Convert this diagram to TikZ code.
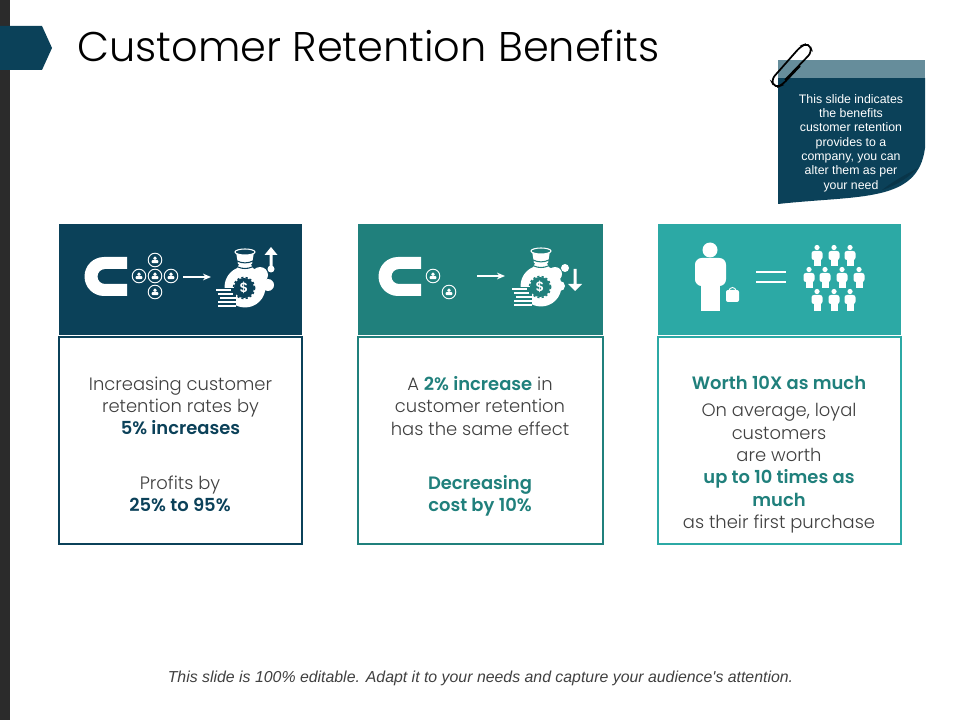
\documentclass[tikz,border=0pt]{standalone}
\usepackage{fontspec}
\usetikzlibrary{arrows.meta}
\setmainfont{Poppins Light}[BoldFont={Poppins SemiBold}]
\newfontfamily\arl{Liberation Sans}
\definecolor{cdark}{HTML}{0B4159}
\definecolor{cmid}{HTML}{20807C}
\definecolor{clight}{HTML}{2CA9A5}
\definecolor{cband}{HTML}{668D9B}
\definecolor{ctext}{HTML}{404040}
\definecolor{cbar}{HTML}{2B2B2B}
\tikzset{
 x=0.75pt,y=-0.75pt,
 panelbox/.style={draw=#1,line width=1.5pt,fill=white},
 bodytext/.style={text=ctext,align=center,font=\fontsize{13.45pt}{16.75pt}\selectfont,inner sep=0pt},
 whiteline/.style={draw=white,line width=1.1pt},
 note/.style={text=white,align=center,font=\arl\fontsize{9.25pt}{10.75pt}\selectfont,inner sep=0pt},
}
\newcommand{\mgnt}[2]{%
 \fill[white] (#1+43,#2) -- (#1+20,#2) arc[start angle=270,end angle=90,radius=19.5] -- (#1+43,#2+39) -- (#1+43,#2+27) -- (#1+21,#2+27) arc[start angle=90,end angle=270,radius=7.5] -- (#1+43,#2+12) -- cycle;}
\newcommand{\usr}[2]{%
 \draw[white,line width=0.7pt] (#1,#2) circle[radius=6.8];
 \fill[white] (#1,#2-1.8) circle[radius=1.9];
 \fill[white,rounded corners=0.8pt] (#1-3.4,#2+3.2) -- (#1-3.4,#2) -- (#1+3.4,#2) -- (#1+3.4,#2+3.2) -- cycle;}
% bag: centre x,y; background colour
\newcommand{\mbag}[3]{%
 \fill[white] (#1,#2) circle[radius=20.5];
 \fill[white] (#1-13,#2-14) .. controls (#1-8,#2-18) and (#1-6,#2-20) .. (#1-6,#2-23) -- (#1+6,#2-23) .. controls (#1+6,#2-20) and (#1+8,#2-18) .. (#1+13,#2-14) -- cycle;
 \fill[white] (#1-9,#2-35) -- (#1+9,#2-35) -- (#1+7,#2-23) -- (#1-7,#2-23) -- cycle;
 \draw[white,line width=0.8pt,fill=#3] (#1,#2-35) ellipse[x radius=10,y radius=3];
 \draw[#3,line width=0.8pt] (#1-8,#2-26) .. controls (#1-3,#2-23.5) and (#1+3,#2-23.5) .. (#1+8,#2-26);
 \draw[#3,line width=0.8pt] (#1-7,#2-20) .. controls (#1-3,#2-18) and (#1+3,#2-18) .. (#1+7,#2-20);
 \fill[#3] (#1-1,#2+1) circle[radius=10];
 \draw[#3,line width=1.2pt,dash pattern=on 1.6pt off 1.6pt] (#1-1,#2+1) circle[radius=10.6];
 \node[text=white,inner sep=0pt,font=\bfseries\fontsize{10pt}{10pt}\selectfont] (dollar#1) at (#1-1,#2+1) {\$};
 \fill[#3] (#1-31,#2+1.5) rectangle (#1-9,#2+21.5);
 \foreach \yy/\xa/\xb in {3.5/-29/-14,7.5/-27/-12,11.5/-25/-9,15.5/-27/-9,19.5/-27/-9}
   \draw[white,line width=1.5pt] (#1+\xa,#2+\yy) -- (#1+\xb,#2+\yy);}
\newcommand{\prsn}[2]{%
 \fill[white] (#1,#2+2.5) circle[radius=2.6];
 \fill[white,rounded corners=1.8pt] (#1-5.5,#2+15) -- (#1-5.5,#2+6) -- (#1+5.5,#2+6) -- (#1+5.5,#2+15) -- cycle;
 \fill[white] (#1-3.5,#2+10) rectangle (#1+3.5,#2+21.5);}
\begin{document}
\begin{tikzpicture}
\useasboundingbox (0,0) rectangle (960,720);
\fill[white] (0,0) rectangle (960,720);
\fill[cbar] (0,0) rectangle (10,720);
\fill[cdark] (0,26) -- (42,26) -- (52,48) -- (42,70) -- (0,70) -- cycle;
\node[anchor=base west,inner sep=0pt,font=\fontsize{31.12pt}{36pt}\selectfont,text=black] (title) at (77,62) {Customer Retention Benefits};
% note
\fill[cdark] (778,78) -- (925,78) -- (925,148) .. controls (918,203) and (860,195) .. (778,204) -- cycle;
\fill[cband] (778,60) rectangle (925,78);
\fill[black!18!cdark] (918,168) .. controls (905,175) and (895,180) .. (882,190) .. controls (898,185) and (910,176) .. (918,168) -- cycle;
\draw[black,line width=1.3pt,rounded corners=4pt] (800,66) -- (782,85) -- (775,88) -- (771,80) -- (801,46) -- (809,43) -- (812,52) -- (785,80);
\node[note] (notetext) at (851,143) {This slide indicates\\the benefits\\customer retention\\provides to a\\company, you can\\alter them as per\\your need};
% panels
\fill[cdark] (59,224) rectangle (302,335);
\fill[cmid] (358,224) rectangle (603,335);
\fill[clight] (658,224) rectangle (901,335);
\draw[panelbox=cdark] (59,337) rectangle (302,544);
\draw[panelbox=cmid] (358,337) rectangle (603,544);
\draw[panelbox=clight] (658,337) rectangle (901,544);
% panel 1 icons
\mgnt{84}{257}
\usr{155}{276}\usr{139}{276}\usr{171}{276}\usr{155}{260}\usr{155}{292}
\coordinate (aa) at (183,277); \coordinate (ab) at (211,277);
\draw[whiteline,-{Stealth[length=6pt,width=5pt]}] (aa) -- (ab);
\mbag{245}{287}{cdark}
\fill[white] (260,275) circle[radius=8]; \fill[white] (268,285) circle[radius=6];
\fill[white] (271,269) circle[radius=3.5];
\fill[white] (269.5,268) rectangle (272.5,254) (264.5,255) -- (271,247) -- (277.5,255) -- cycle;
% panel 2 icons
\mgnt{378}{257}
\usr{433}{276}\usr{449}{292}
\coordinate (ba) at (477,276); \coordinate (bb) at (505,276);
\draw[whiteline,-{Stealth[length=6pt,width=5pt]}] (ba) -- (bb);
\mbag{541}{286}{cmid}
\fill[white] (555,274) circle[radius=7]; \fill[white] (565,268) circle[radius=4]; \fill[white] (560,286) circle[radius=5];
\fill[white] (573.5,269) rectangle (576.5,284) (568,284) -- (582,284) -- (575,291) -- cycle;
% panel 3 icons
\fill[white] (710,250) circle[radius=7.5];
\fill[white,rounded corners=5pt] (695,286) -- (695,258) -- (726,258) -- (726,286) -- cycle;
\fill[white] (701,275) rectangle (720,311);
\fill[white,rounded corners=1.5pt] (726,290) rectangle (739,302);
\draw[white,line width=0.7pt] (729,291) arc[start angle=180,end angle=360,radius=3.5];
\coordinate (ea) at (756,272); \coordinate (eb) at (786,272);
\coordinate (ec) at (756,282); \coordinate (ed) at (786,282);
\draw[whiteline] (ea) -- (eb); \draw[whiteline] (ec) -- (ed);
\foreach \px in {817,834,850} {\prsn{\px}{245}\prsn{\px}{289}}
\foreach \px in {809,825,842,859} {\prsn{\px}{267}}
% text
\node[bodytext] (t1a) at (180.5,406) {Increasing customer\\retention rates by\\\textcolor{cdark}{\textbf{5\% increases}}};
\node[bodytext] (t1b) at (180,494) {Profits by\\\textcolor{cdark}{\textbf{25\% to 95\%}}};
\node[bodytext] (t2a) at (480,406) {A \textcolor{cmid}{\textbf{2\% increase}} in\\customer retention\\has the same effect};
\node[bodytext] (t2b) at (480,495.5) {\textcolor{cmid}{\textbf{Decreasing}}\\\textcolor{cmid}{\textbf{cost by 10\%}}};
\node[bodytext] (t3a) at (779,383) {\textcolor{cmid}{\textbf{Worth 10X as much}}};
\node[bodytext] (t3b) at (779,468.5) {On average, loyal\\customers\\are worth\\\textcolor{cmid}{\textbf{up to 10 times as}}\\\textcolor{cmid}{\textbf{much}}\\as their first purchase};
\node[inner sep=0pt,text=ctext,font=\arl\itshape\fontsize{11.9pt}{14pt}\selectfont] (foot) at (480.5,678) {This slide is 100\% editable. Adapt it to your needs and capture your audience's attention.};
\end{tikzpicture}
\end{document}
